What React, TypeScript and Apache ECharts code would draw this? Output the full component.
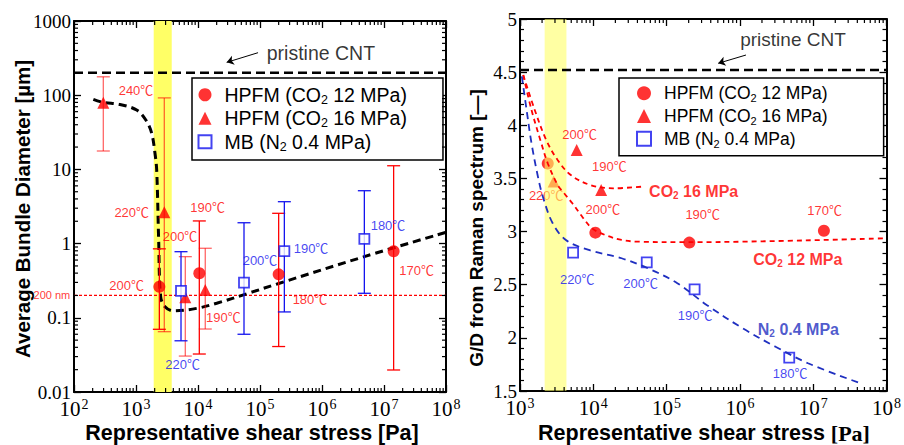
import React, { useEffect, useRef } from 'react';
import * as echarts from 'echarts';

// ---------------- names ----------------
const NAME12 = 'HPFM (CO2 12 MPa)';
const NAME16 = 'HPFM (CO2 16 MPa)';
const NAMEMB = 'MB (N2 0.4 MPa)';

// ---------------- left panel: [stress Pa, diameter µm, err low, err high] ----------------
const leftHp12: number[][] = [
  [2380, 0.262, 0.07, 0.85],
  [10500, 0.398, 0.0325, 2.02],
  [200000, 0.385, 0.041, 2.56],
  [14300000, 0.79, 0.0198, 11.2],
];
const leftHp16: number[][] = [
  [297, 79, 17.7, 177],
  [2860, 2.64, 0.065, 92],
  [6240, 0.189, 0.0305, 0.667],
  [13100, 0.237, 0.0706, 0.865],
];
const leftMb: number[][] = [
  [5320, 0.23, 0.049, 0.778],
  [55200, 0.297, 0.06, 1.91],
  [247000, 0.794, 0.12, 3.67],
  [4820000, 1.16, 0.214, 5.16],
];
const leftFit: number[][] = [
  [205, 88], [294, 80], [552, 75], [1026, 63], [1449, 46], [1790, 30.7],
  [2024, 16.5], [2157, 9.8], [2320, 1.12], [2500, 0.192], [2938, 0.141],
  [4000, 0.124], [9530, 0.134], [20000, 0.157], [64700, 0.214],
  [200000, 0.29], [4800000, 0.667], [100000000, 1.42],
];
const leftBand = [1930, 3770];
const leftPristine = 200;
const leftLimit = 0.2;
const leftXRange = [1e2, 1e8];
const leftYRange = [0.01, 1000];
const leftYTickLabels = ['0.01', '0.1', '1', '10', '100', '1000'];
const leftRedLabels: [number, number, string][] = [
  [1000, 115, '240℃'],
  [853, 2.64, '220℃'],
  [14300, 3.05, '190℃'],
  [5130, 1.26, '200℃'],
  [708, 0.271, '200℃'],
  [25600, 0.1, '190℃'],
  [640000, 0.174, '180℃'],
  [33700000, 0.431, '170℃'],
];
const leftBlueLabels: [number, number, string][] = [
  [5660, 0.0238, '220℃'],
  [100000, 0.601, '200℃'],
  [665000, 0.865, '190℃'],
  [11600000, 1.78, '180℃'],
];
const leftLimitLabel: [number, number, string][] = [[44, 0.2, '200 nm']];
const leftPristineLabel: [number, number, string][] = [[960000, 371, 'pristine CNT']];
const leftArrow = [[93000, 374], [29000, 277]];

// ---------------- right panel: [stress Pa, G/D] ----------------
const rightHp12: number[][] = [[2390, 3.64], [10670, 2.99], [204000, 2.896], [14000000, 3.008]];
const rightHp16: number[][] = [[2880, 3.47], [5930, 3.768], [12800, 3.391]];
const rightMb: number[][] = [[5300, 2.802], [53600, 2.711], [241000, 2.457], [4710000, 1.814]];
const rightFit12: number[][] = [
  [1107, 4.473], [1435, 4.144], [1954, 3.831], [2393, 3.642], [3260, 3.438], [4000, 3.36],
  [5180, 3.266], [7060, 3.14], [9620, 3.031], [14500, 2.968], [24300, 2.921],
  [40600, 2.905], [190000, 2.9], [97000000, 2.937],
];
const rightFit16: number[][] = [
  [1107, 4.473], [1589, 4.144], [2278, 3.862], [3260, 3.673], [4930, 3.532],
  [9140, 3.438], [18700, 3.407], [45000, 3.422],
];
const rightFitMb: number[][] = [
  [1060, 4.46], [1230, 4.144], [1435, 3.831], [1757, 3.516], [2052, 3.328], [2793, 3.078],
  [4226, 2.921], [8670, 2.827], [24300, 2.749], [55300, 2.655], [140000, 2.514],
  [352000, 2.31], [1090000, 2.09], [3060000, 1.917], [8500000, 1.761], [44000000, 1.573],
];
const rightBand = [2170, 4300];
const rightPristine = 4.52;
const rightXRange = [1e3, 1e8];
const rightYRange = [1.5, 5];
const rightRedLabels: [number, number, string][] = [
  [6510, 3.915, '200℃'],
  [16600, 3.61, '190℃'],
  [13500, 3.21, '200℃'],
  [311000, 3.163, '190℃'],
  [14300000, 3.194, '170℃'],
];
const rightBandLabels: [number, number, string][] = [[2280, 3.344, '220℃']];
const rightBlueLabels: [number, number, string][] = [
  [6040, 2.545, '220℃'],
  [44200, 2.514, '200℃'],
  [245000, 2.215, '190℃'],
  [4850000, 1.667, '180℃'],
];
const rightRedCurveLabels: [number, number, string][] = [
  [234000, 3.375, 'CO{s|2} 16 MPa'],
  [6170000, 2.739, 'CO{s|2} 12 MPa'],
];
const rightBlueCurveLabels: [number, number, string][] = [[6280000, 2.074, 'N{s|2} 0.4 MPa']];
const rightPristineLabel: [number, number, string][] = [[5300000, 4.809, 'pristine CNT']];
const rightArrow = [[1210000, 4.661], [506000, 4.583]];

// ---------------- style constants ----------------
const SANS = '"Liberation Sans", Arial, "Noto Sans CJK JP", sans-serif';
const SERIF = '"Liberation Serif", "Times New Roman", serif';
const RED = '#ff0000';
const BLUE = '#1414ee';
const BLUE_DARK = '#1f2fc0';
const YELLOW = '#ffff66';

function decadeMinors(lo: number, hi: number): number[] {
  const out: number[] = [];
  for (let e = lo; e < hi; e++) {
    for (let m = 2; m <= 9; m++) out.push(m * Math.pow(10, e));
  }
  return out;
}

const lineStyleTick = { stroke: '#000', lineWidth: 1.2 };

function minorXSeries(xi: number, yi: number, vals: number[], yRef: number) {
  return {
    type: 'custom', xAxisIndex: xi, yAxisIndex: yi, silent: true, z: 20,
    data: vals.map((v) => [v, yRef]), encode: { x: 0, y: 1 },
    renderItem: (params: any, api: any) => {
      const cs = params.coordSys;
      const px = api.coord([api.value(0), yRef])[0];
      const b = cs.y + cs.height;
      return {
        type: 'group',
        children: [
          { type: 'line', shape: { x1: px, y1: b, x2: px, y2: b - 4 }, style: lineStyleTick },
          { type: 'line', shape: { x1: px, y1: cs.y, x2: px, y2: cs.y + 4 }, style: lineStyleTick },
        ],
      };
    },
  };
}

function minorYSeries(xi: number, yi: number, vals: number[], xRef: number) {
  return {
    type: 'custom', xAxisIndex: xi, yAxisIndex: yi, silent: true, z: 20,
    data: vals.map((v) => [xRef, v]), encode: { x: 0, y: 1 },
    renderItem: (params: any, api: any) => {
      const cs = params.coordSys;
      const py = api.coord([xRef, api.value(1)])[1];
      const r = cs.x + cs.width;
      return {
        type: 'group',
        children: [
          { type: 'line', shape: { x1: cs.x, y1: py, x2: cs.x + 4, y2: py }, style: lineStyleTick },
          { type: 'line', shape: { x1: r, y1: py, x2: r - 4, y2: py }, style: lineStyleTick },
        ],
      };
    },
  };
}

function errorSeries(xi: number, yi: number, rows: number[][], color: string, opacity: number, z: number) {
  return {
    type: 'custom', xAxisIndex: xi, yAxisIndex: yi, silent: true, z,
    data: rows.map((d) => [d[0], d[2], d[3]]), encode: { x: 0, y: [1, 2] },
    renderItem: (params: any, api: any) => {
      const x = api.value(0);
      const lo = api.coord([x, api.value(1)]);
      const hi = api.coord([x, api.value(2)]);
      const hw = 6.5;
      const st = { stroke: color, lineWidth: 1.3, opacity };
      return {
        type: 'group',
        children: [
          { type: 'line', shape: { x1: lo[0], y1: lo[1], x2: hi[0], y2: hi[1] }, style: st },
          { type: 'line', shape: { x1: lo[0] - hw, y1: lo[1], x2: lo[0] + hw, y2: lo[1] }, style: st },
          { type: 'line', shape: { x1: hi[0] - hw, y1: hi[1], x2: hi[0] + hw, y2: hi[1] }, style: st },
        ],
      };
    },
  };
}

function bandSeries(xi: number, yi: number, band: number[], yRef: number, opacity: number, z: number) {
  return {
    type: 'custom', xAxisIndex: xi, yAxisIndex: yi, silent: true, z,
    data: [[band[0], band[1], yRef]], encode: { x: [0, 1], y: 2 },
    renderItem: (params: any, api: any) => {
      const cs = params.coordSys;
      const a = api.coord([api.value(0), yRef])[0];
      const b = api.coord([api.value(1), yRef])[0];
      return {
        type: 'rect',
        shape: { x: a, y: cs.y, width: b - a, height: cs.height },
        style: { fill: YELLOW, opacity },
      };
    },
  };
}

function labelSeries(xi: number, yi: number, items: [number, number, string][], color: string,
  fontSize: number, fontWeight: string, z: number) {
  return {
    type: 'scatter', xAxisIndex: xi, yAxisIndex: yi, silent: true, clip: false, z,
    symbolSize: 1, itemStyle: { color: 'rgba(0,0,0,0)' },
    data: items.map(([x, y, t]) => ({ value: [x, y], label: { formatter: t } })),
    label: {
      show: true, position: 'inside', color, fontSize, fontWeight, fontFamily: SANS,
      rich: { s: { fontSize: Math.round(fontSize * 0.65), fontWeight, color, fontFamily: SANS, padding: [8, 0, 0, 0] } },
    },
    emphasis: { disabled: true },
  };
}

function hLine(xi: number, yi: number, range: number[], y: number, color: string, width: number,
  type: any, z: number, arrow?: number[][]) {
  const s: any = {
    type: 'line', xAxisIndex: xi, yAxisIndex: yi, silent: true, z, symbol: 'none',
    data: [[range[0], y], [range[1], y]],
    itemStyle: { color },
    lineStyle: { color, width, type },
  };
  if (arrow) {
    s.markLine = {
      silent: true, symbol: ['none', 'arrow'], symbolSize: 7, animation: false,
      lineStyle: { color: '#000', width: 1, type: 'solid' }, label: { show: false },
      data: [[{ coord: arrow[0] }, { coord: arrow[1] }]],
    };
  }
  return s;
}

function fitLine(xi: number, yi: number, pts: number[][], color: string, width: number, dash: number[], z: number) {
  return {
    type: 'line', xAxisIndex: xi, yAxisIndex: yi, silent: true, z, symbol: 'none',
    smooth: 0.35, data: pts, itemStyle: { color }, lineStyle: { color, width, type: dash },
  };
}

function markerSeries(xi: number, yi: number, name: string, pts: number[][], kind: string, z: number) {
  const base: any = {
    type: 'scatter', name, xAxisIndex: xi, yAxisIndex: yi, z, silent: true,
    data: pts.map((d) => [d[0], d[1]]),
  };
  if (kind === 'c') { base.symbol = 'circle'; base.symbolSize = 12; base.itemStyle = { color: RED }; }
  if (kind === 't') { base.symbol = 'triangle'; base.symbolSize = 12; base.itemStyle = { color: RED }; }
  if (kind === 's') {
    base.symbol = 'rect'; base.symbolSize = 10;
    base.itemStyle = { color: '#fff', borderColor: BLUE, borderWidth: 1.8 };
  }
  return base;
}

const supRich = {
  sup: { fontSize: 14, fontFamily: SERIF, color: '#000', padding: [0, 0, 9, 1] },
};

function logXLabel(v: number) {
  return '10{sup|' + Math.round(Math.log10(v)) + '}';
}

const axisLineStyle = { show: true, onZero: false, lineStyle: { color: '#000', width: 2 } };
const tickStyle = { show: true, inside: true, length: 7, lineStyle: { color: '#000', width: 1.3 } };

function buildOption() {
  const legendFormatter = (n: string) => '{g|}' + n.replace('CO2', 'CO{s|2}').replace('N2', 'N{s|2}');
  return {
    animation: false,
    backgroundColor: '#fff',
    grid: [
      { left: 74, top: 21, width: 372, height: 371 },
      { left: 520, top: 19, width: 373, height: 372 },
    ],
    xAxis: [
      {
        gridIndex: 0, type: 'log', logBase: 10, min: leftXRange[0], max: leftXRange[1], position: 'bottom',
        axisLine: axisLineStyle, axisTick: tickStyle, splitLine: { show: false },
        axisLabel: { formatter: logXLabel, fontFamily: SERIF, fontSize: 21, color: '#000', margin: 5, rich: supRich },
      },
      {
        gridIndex: 0, type: 'log', logBase: 10, min: leftXRange[0], max: leftXRange[1], position: 'top',
        axisLine: axisLineStyle, axisTick: tickStyle, splitLine: { show: false }, axisLabel: { show: false },
      },
      {
        gridIndex: 1, type: 'log', logBase: 10, min: rightXRange[0], max: rightXRange[1], position: 'bottom',
        axisLine: axisLineStyle, axisTick: tickStyle, splitLine: { show: false },
        axisLabel: { formatter: logXLabel, fontFamily: SERIF, fontSize: 21, color: '#000', margin: 5, rich: supRich },
      },
      {
        gridIndex: 1, type: 'log', logBase: 10, min: rightXRange[0], max: rightXRange[1], position: 'top',
        axisLine: axisLineStyle, axisTick: tickStyle, splitLine: { show: false }, axisLabel: { show: false },
      },
    ],
    yAxis: [
      {
        gridIndex: 0, type: 'log', logBase: 10, min: leftYRange[0], max: leftYRange[1], position: 'left',
        axisLine: axisLineStyle, axisTick: tickStyle, splitLine: { show: false },
        axisLabel: {
          formatter: (v: number) => leftYTickLabels[Math.round(Math.log10(v)) + 2],
          fontFamily: SERIF, fontSize: 19, color: '#000', margin: 3,
        },
      },
      {
        gridIndex: 0, type: 'log', logBase: 10, min: leftYRange[0], max: leftYRange[1], position: 'right',
        axisLine: axisLineStyle, axisTick: tickStyle, splitLine: { show: false }, axisLabel: { show: false },
      },
      {
        gridIndex: 1, type: 'value', min: rightYRange[0], max: rightYRange[1], interval: 0.5, position: 'left',
        axisLine: axisLineStyle, axisTick: tickStyle, splitLine: { show: false },
        minorTick: { show: true, splitNumber: 5, length: 4, lineStyle: { color: '#000', width: 1.2 } },
        axisLabel: {
          formatter: (v: number) => (Number.isInteger(v) ? String(v) : v.toFixed(1)),
          fontFamily: SERIF, fontSize: 19, color: '#000', margin: 3,
        },
      },
      {
        gridIndex: 1, type: 'value', min: rightYRange[0], max: rightYRange[1], interval: 0.5, position: 'right',
        axisLine: axisLineStyle, axisTick: tickStyle, splitLine: { show: false },
        minorTick: { show: true, splitNumber: 5, length: 4, lineStyle: { color: '#000', width: 1.2 } },
        axisLabel: { show: false },
      },
    ],
    legend: [
      {
        left: 192, top: 78, orient: 'vertical', data: [NAME12, NAME16, NAMEMB], selectedMode: false,
        backgroundColor: '#fff', borderColor: '#000', borderWidth: 1.5, padding: [7, 36, 7, 5.5],
        itemWidth: 13, itemHeight: 13, itemGap: 2.5, formatter: legendFormatter,
        textStyle: {
          fontSize: 19.5, fontFamily: SANS, color: '#000',
          rich: {
            g: { width: 8 },
            s: { fontSize: 12.5, fontFamily: SANS, color: '#000', padding: [10, 0, 0, 0] },
          },
        },
      },
      {
        left: 619, top: 78, orient: 'vertical', data: [NAME12, NAME16, NAMEMB], selectedMode: false,
        backgroundColor: '#fff', borderColor: '#000', borderWidth: 1.5, padding: [6.5, 56, 6.5, 17],
        itemWidth: 14, itemHeight: 14, itemGap: 3.5, formatter: legendFormatter,
        textStyle: {
          fontSize: 17.5, fontFamily: SANS, color: '#000',
          rich: {
            g: { width: 8 },
            s: { fontSize: 11, fontFamily: SANS, color: '#000', padding: [10, 0, 0, 0] },
          },
        },
      },
    ],
    graphic: [
      {
        type: 'text', x: 252, y: 433, silent: true,
        style: {
          text: 'Representative shear stress [Pa]', fontFamily: SANS, fontWeight: 'bold', fontSize: 21.5,
          fill: '#000', align: 'center', verticalAlign: 'middle', textAlign: 'center', textVerticalAlign: 'middle',
        },
      },
      {
        type: 'text', x: 704, y: 433, silent: true,
        style: {
          text: 'Representative shear stress {t|[Pa]}', fontFamily: SANS, fontWeight: 'bold', fontSize: 21.5,
          fill: '#000', align: 'center', verticalAlign: 'middle', textAlign: 'center', textVerticalAlign: 'middle',
          rich: { t: { fontFamily: SERIF, fontWeight: 'bold', fontSize: 22, fill: '#000' } },
        },
      },
      {
        type: 'text', x: 22, y: 209, rotation: Math.PI / 2, silent: true,
        style: {
          text: 'Average Bundle Diameter [µm]', fontFamily: SANS, fontWeight: 'bold', fontSize: 20.5,
          fill: '#000', align: 'center', verticalAlign: 'middle', textAlign: 'center', textVerticalAlign: 'middle',
        },
      },
      {
        type: 'text', x: 476, y: 228, rotation: Math.PI / 2, silent: true,
        style: {
          text: 'G/D from Raman spectrum [—]', fontFamily: SANS, fontWeight: 'bold', fontSize: 19,
          fill: '#000', align: 'center', verticalAlign: 'middle', textAlign: 'center', textVerticalAlign: 'middle',
        },
      },
    ],
    series: [
      // ---------- left ----------
      bandSeries(0, 0, leftBand, 1, 1, 1),
      hLine(0, 0, leftXRange, leftPristine, '#000', 2.5, [9, 5], 3, leftArrow),
      hLine(0, 0, leftXRange, leftLimit, RED, 1.2, [3, 2], 3),
      fitLine(0, 0, leftFit, '#000', 3, [8, 5], 4),
      errorSeries(0, 0, leftHp12, RED, 1, 5),
      errorSeries(0, 0, leftHp16, RED, 0.6, 5),
      errorSeries(0, 0, leftMb, BLUE, 1, 5),
      markerSeries(0, 0, NAME12, leftHp12, 'c', 6),
      markerSeries(0, 0, NAME16, leftHp16, 't', 6),
      markerSeries(0, 0, NAMEMB, leftMb, 's', 6),
      labelSeries(0, 0, leftRedLabels, RED, 13, 'normal', 7),
      labelSeries(0, 0, leftBlueLabels, BLUE, 13, 'normal', 7),
      labelSeries(0, 0, leftLimitLabel, RED, 11, 'normal', 7),
      labelSeries(0, 0, leftPristineLabel, '#000', 19.5, 'normal', 7),
      minorXSeries(0, 0, decadeMinors(2, 8), 1),
      minorYSeries(0, 0, decadeMinors(-2, 3), 1000),
      // ---------- right ----------
      markerSeries(2, 2, NAME12, rightHp12, 'c', 2),
      markerSeries(2, 2, NAME16, rightHp16, 't', 2),
      markerSeries(2, 2, NAMEMB, rightMb, 's', 2),
      labelSeries(2, 2, rightBandLabels, RED, 13, 'normal', 2),
      bandSeries(2, 2, rightBand, 3, 0.6, 3),
      hLine(2, 2, rightXRange, rightPristine, '#000', 2.5, [9, 5], 4, rightArrow),
      fitLine(2, 2, rightFit12, RED, 1.8, [5, 4], 5),
      fitLine(2, 2, rightFit16, RED, 1.8, [5, 4], 5),
      fitLine(2, 2, rightFitMb, BLUE_DARK, 1.8, [7, 5], 5),
      labelSeries(2, 2, rightRedLabels, RED, 13, 'normal', 7),
      labelSeries(2, 2, rightBlueLabels, BLUE, 13, 'normal', 7),
      labelSeries(2, 2, rightRedCurveLabels, RED, 16, 'bold', 7),
      labelSeries(2, 2, rightBlueCurveLabels, BLUE_DARK, 16, 'bold', 7),
      labelSeries(2, 2, rightPristineLabel, '#000', 19, 'normal', 7),
      minorXSeries(2, 2, decadeMinors(3, 8), 3),
    ],
  };
}

export default function App() {
  const ref = useRef<HTMLDivElement>(null);
  useEffect(() => {
    const chart = echarts.init(ref.current as HTMLDivElement, null, { renderer: 'svg' });
    chart.setOption(buildOption() as any);
    return () => chart.dispose();
  }, []);
  return (
    <div
      ref={ref}
      style={{ position: 'fixed', left: 0, top: 0, width: 904, height: 445, background: '#fff' }}
    />
  );
}
